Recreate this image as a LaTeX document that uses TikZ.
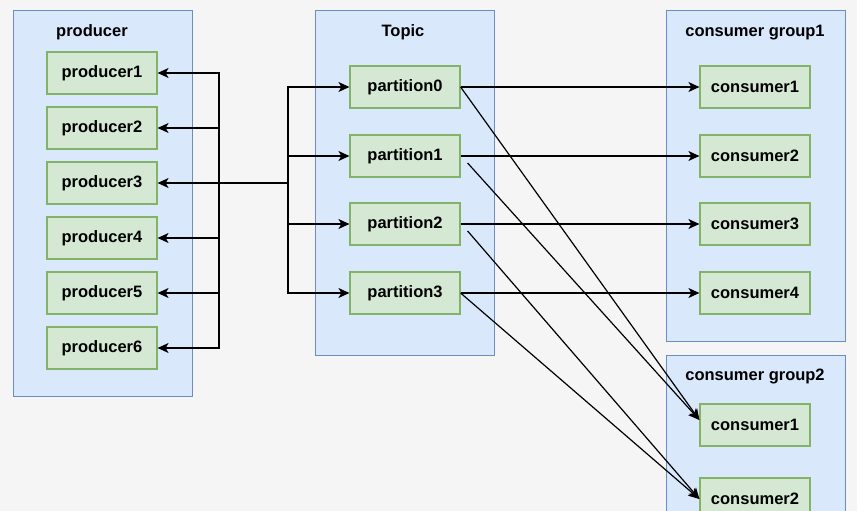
\documentclass[tikz,border=0pt]{standalone}
\usepackage{fontspec}
\setmainfont{Liberation Sans}
\usepackage{tikz}
\usetikzlibrary{arrows.meta}

\definecolor{grpfill}{HTML}{DAE8FC}
\definecolor{grpline}{HTML}{6C8EBF}
\definecolor{boxfill}{HTML}{D5E8D4}
\definecolor{boxline}{HTML}{82B366}
\definecolor{bgcol}{HTML}{F5F5F5}

\tikzset{
	group/.style={draw=grpline, fill=grpfill, line width=1pt, minimum width=179pt},
	member/.style={draw=boxline, fill=boxfill, line width=1.2pt, minimum width=110pt, minimum height=42pt, font=\fontsize{16.5}{19}\selectfont\bfseries},
	title/.style={font=\fontsize{16.5}{19}\selectfont\bfseries},
	link/.style={line width=1.2pt, -{Stealth[length=11pt,width=10pt,inset=3pt]}}
}

\begin{document}
\begin{tikzpicture}[x=1pt,y=-1pt]
		% Background and page size
		\fill[bgcol] (0,0) rectangle (857,511);
		\clip (0,0) rectangle (857,511);
		% Containers
		\node[group, minimum height=385pt] (prodgrp) at (102.5,203.5) {};
		\node[group, minimum height=344pt] (topicgrp) at (405,183) {};
		\node[group, minimum height=330pt] (grpone) at (755.5,176) {};
		\node[group, minimum height=200pt] (grptwo) at (755.5,455) {};
		% Container titles
		\node[title] (prodtitle) at (92,32.5) {producer};
		\node[title] (topictitle) at (403,32.5) {Topic};
		\node[title] (onetitle) at (755,32.5) {consumer group1};
		\node[title] (twotitle) at (755,376.5) {consumer group2};
		% Producers
		\node[member] (p1) at (102,73) {producer1};
		\node[member] (p2) at (102,128) {producer2};
		\node[member] (p3) at (102,183) {producer3};
		\node[member] (p4) at (102,238) {producer4};
		\node[member] (p5) at (102,293) {producer5};
		\node[member] (p6) at (102,348) {producer6};
		% Partitions
		\node[member] (t0) at (405,87) {partition0};
		\node[member] (t1) at (405,156) {partition1};
		\node[member] (t2) at (405,224) {partition2};
		\node[member] (t3) at (405,293) {partition3};
		% Consumer group1
		\node[member] (a1) at (755,87) {consumer1};
		\node[member] (a2) at (755,156) {consumer2};
		\node[member] (a3) at (755,224) {consumer3};
		\node[member] (a4) at (755,293) {consumer4};
		% Consumer group2
		\node[member] (b1) at (755,425) {consumer1};
		\node[member] (b2) at (755,499) {consumer2};
		% Bus points
		\coordinate (busP) at (219,183);
		\coordinate (busT) at (288,183);
		% Topic to producers
		\draw[link] (busT) -- (p3);
		\draw[link] (busP) |- (p1);
		\draw[link] (busP) |- (p2);
		\draw[link] (busP) |- (p4);
		\draw[link] (busP) |- (p5);
		\draw[link] (busP) |- (p6);
		% Bus to partitions
		\draw[link] (busT) |- (t0);
		\draw[link] (busT) |- (t1);
		\draw[link] (busT) |- (t2);
		\draw[link] (busT) |- (t3);
		% Partitions to group1
		\draw[link] (t0) -- (a1);
		\draw[link] (t1) -- (a2);
		\draw[link] (t2) -- (a3);
		\draw[link] (t3) -- (a4);
		% Partitions to group2
		\draw[link] (t0.east) -- ([yshift=5pt]b1.west);
		\draw[link] ([xshift=7pt,yshift=-7pt]t1.east) -- ([yshift=5pt]b1.west);
		\draw[link] ([xshift=7pt,yshift=-7pt]t2.east) -- (b2.west);
		\draw[link] (t3.east) -- (b2.west);
	\end{tikzpicture}
\end{document}
